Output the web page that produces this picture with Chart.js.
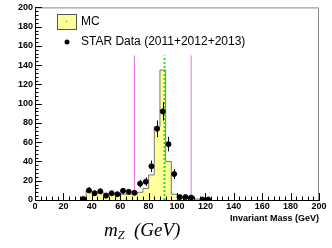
<!DOCTYPE html>
<html>
<head>
<meta charset="utf-8">
<script src="https://cdn.jsdelivr.net/npm/chart.js@4"></script>
<style>
  html, body { margin: 0; padding: 0; background: #fff; }
  #wrap { position: relative; width: 332px; height: 248px; }
  #caption {
    position: absolute; left: 104px; top: 219px;
    font-family: "Liberation Serif", serif; font-style: italic; font-size: 19px;
    color: #000; white-space: nowrap;
  }
  #caption sub { font-size: 12px; vertical-align: -3px; }
</style>
</head>
<body>
<div id="wrap">
  <canvas id="chart" width="332" height="248"></canvas>
  <div id="caption">m<sub>Z</sub>&nbsp;&nbsp;(GeV)</div>
</div>
<script>
// MC histogram: bin edges (GeV) and counts per bin
const mcEdges = [32,36,40,44,48,52,56,60,64,68,72,76,80,84,88,92,96,100,104,108,112,116,120,124];
const mcCounts = [0,10,8,8,7,6,6,6,6,6,8,12,26,76,135,40,6,2,2,1.5,1,1,0.5];

// STAR data points (bin centres), counts and errors
const dataMass = [34,38,42,46,50,54,58,62,66,70,74,78,82,86,90,94,98,102,106,110,118,122];
const dataCounts = [1,10,7,9,4.5,7,6,9.5,8.5,7.5,17,19,35,74,92,58,27,3,3,2.5,0.5,0.5];
const dataErrors = [1,3,2.6,3,2.1,2.6,2.4,3,2.9,2.7,4,4.4,6,8.6,9.6,7.6,5.2,1.7,1.7,1.6,0.7,0.7];

// mass window cuts and Z mass line
const cutLines = [70, 110];
const zMass = 91.19;
const lineTop = 150;

// bars for the fill, stepped line for the outline
const mcBars = mcCounts.map((c, i) => ({ x: (mcEdges[i] + mcEdges[i + 1]) / 2, y: c }));
const mcOutline = mcEdges.map((e, i) => ({ x: e, y: i < mcCounts.length ? mcCounts[i] : 0 }));
const dataPoints = dataMass.map((m, i) => ({ x: m, y: dataCounts[i], err: dataErrors[i] }));

const rootStyle = {
  id: "rootStyle",
  afterDatasetsDraw(chart) {
    const ctx = chart.ctx;
    const xs = chart.scales.x, ys = chart.scales.y;
    // error bars
    ctx.save();
    ctx.strokeStyle = "#000";
    ctx.lineWidth = 1;
    dataPoints.forEach(p => {
      const px = Math.round(xs.getPixelForValue(p.x)) + 0.5;
      ctx.beginPath();
      ctx.moveTo(px, ys.getPixelForValue(p.y + p.err));
      ctx.lineTo(px, ys.getPixelForValue(Math.max(0, p.y - p.err)));
      ctx.stroke();
    });
    ctx.restore();
  },
  afterDraw(chart) {
    const ctx = chart.ctx;
    const a = chart.chartArea;
    const xs = chart.scales.x, ys = chart.scales.y;
    ctx.save();
    // frame top/right
    ctx.strokeStyle = "#888";
    ctx.lineWidth = 1;
    ctx.beginPath();
    ctx.moveTo(a.left, a.top + 0.5);
    ctx.lineTo(a.right - 0.5, a.top + 0.5);
    ctx.lineTo(a.right - 0.5, a.bottom);
    ctx.stroke();
    // inner ticks
    ctx.strokeStyle = "#000";
    ctx.beginPath();
    for (let v = 0; v <= 200; v += 4) {
      const len = v % 20 === 0 ? 7 : 3.5;
      const px = Math.round(xs.getPixelForValue(v)) + 0.5;
      ctx.moveTo(px, a.bottom);
      ctx.lineTo(px, a.bottom - len);
      const py = Math.round(ys.getPixelForValue(v)) + 0.5;
      ctx.moveTo(a.left, py);
      ctx.lineTo(a.left + len, py);
    }
    ctx.stroke();
    // legend
    ctx.fillStyle = "#ffff99";
    ctx.fillRect(57, 14, 19, 15);
    ctx.strokeStyle = "#555";
    ctx.strokeRect(57.5, 14.5, 19, 15);
    ctx.fillStyle = "#666";
    ctx.fillRect(66, 21, 1, 1);
    ctx.fillStyle = "#000";
    ctx.beginPath();
    ctx.arc(67, 42, 2.5, 0, Math.PI * 2);
    ctx.fill();
    ctx.font = "12px Arial, 'Liberation Sans', sans-serif";
    ctx.textBaseline = "middle";
    ctx.textAlign = "left";
    ctx.fillText("MC", 81, 22);
    ctx.fillText("STAR Data (2011+2012+2013)", 81, 42);
    // x axis title
    ctx.font = "bold 9px Arial, 'Liberation Sans', sans-serif";
    ctx.textAlign = "right";
    ctx.fillText("Invariant Mass (GeV)", a.right, 219);
    ctx.restore();
  }
};

const tickFont = { family: "Arial, 'Liberation Sans', sans-serif", size: 9, weight: "bold" };

new Chart(document.getElementById("chart"), {
  type: "scatter",
  data: {
    datasets: [
      ...cutLines.map(c => ({
        data: [{ x: c, y: 0 }, { x: c, y: lineTop }],
        showLine: true, borderColor: "#f080f0", borderWidth: 1.2, pointRadius: 0, order: 5
      })),
      {
        type: "bar",
        label: "MC",
        data: mcBars,
        backgroundColor: "#ffff99", borderWidth: 0,
        barPercentage: 1, categoryPercentage: 1, order: 4
      },
      {
        data: mcOutline,
        showLine: true, stepped: "before",
        borderColor: "#777", borderWidth: 1, fill: false, pointRadius: 0, order: 3
      },
      {
        data: [{ x: zMass, y: 0 }, { x: zMass, y: lineTop }],
        showLine: true, borderColor: "#22dd22", borderWidth: 2, borderDash: [2, 2],
        pointRadius: 0, order: 2
      },
      {
        label: "STAR Data (2011+2012+2013)",
        data: dataPoints,
        backgroundColor: "#000", borderColor: "#000", pointRadius: 2.5, order: 1
      }
    ]
  },
  options: {
    responsive: false,
    animation: false,
    devicePixelRatio: 1,
    layout: { padding: { top: 6, right: 13, left: 0, bottom: 0 } },
    plugins: { legend: { display: false }, tooltip: { enabled: false } },
    scales: {
      x: {
        type: "linear", min: 0, max: 200, offset: false,
        ticks: { stepSize: 20, font: tickFont, color: "#000", padding: 1, maxRotation: 0 },
        grid: { display: false, drawTicks: false, offset: false },
        border: { display: true, color: "#000", width: 1 },
        afterFit: s => { s.height = 48; }
      },
      y: {
        type: "linear", min: 0, max: 200,
        ticks: { stepSize: 20, font: tickFont, color: "#000", padding: 2 },
        grid: { display: false, drawTicks: false },
        border: { display: true, color: "#000", width: 1 },
        afterFit: s => { s.width = 35; }
      }
    }
  },
  plugins: [rootStyle]
});
</script>
</body>
</html>
